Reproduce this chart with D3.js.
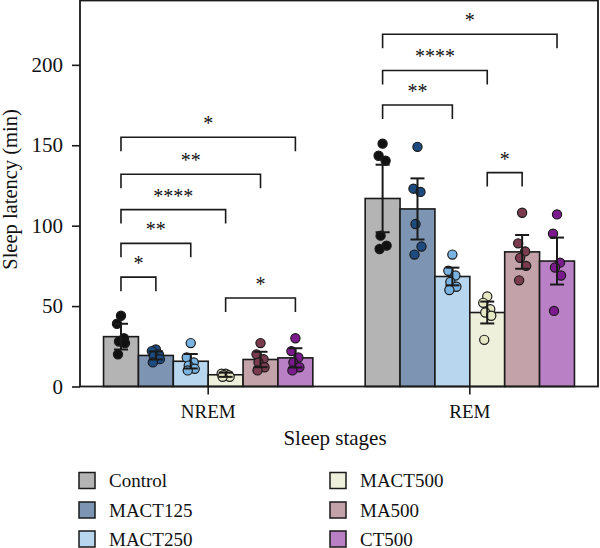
<!DOCTYPE html>
<html>
<head>
<meta charset="utf-8">
<script src="https://cdn.jsdelivr.net/npm/d3@7"></script>
<style>
  body { margin: 0; background: #fff; }
  svg text { font-family: "Liberation Serif", "DejaVu Serif", serif !important; fill: #111; }
</style>
</head>
<body>
<script>
// Data
const stages = ["NREM", "REM"]
const groups = ["Control", "MACT125", "MACT250", "MACT500", "MA500", "CT500"]
const nremMeans = [31, 19.3, 15.7, 7.3, 16.8, 17.8]
const nremErrors = [8, 2.5, 4.5, 1.3, 4.8, 6]
const remMeans = [116.9, 110.4, 68.4, 46, 83.7, 78]
const remErrors = [21, 19, 5.5, 6.8, 10.5, 14.6]
const nremPoints = [
  [44, 39, 30, 28, 27, 20],
  [23, 22, 20, 19, 17, 15],
  [27, 18, 15, 13, 11, 10],
  [8, 8, 7, 7, 6, 6],
  [27, 20, 17, 15, 12, 10],
  [30, 22, 18, 15, 12, 10]
]
const remPoints = [
  [151, 143.5, 140.4, 93.8, 87.6, 85.5],
  [149, 123, 121, 101, 87, 82],
  [82, 72, 69, 65, 62, 60],
  [56, 52, 48, 46, 44, 29],
  [108, 89, 84, 80, 75, 66],
  [107, 95, 77, 74, 69, 47]
]
const yTicks = [0, 50, 100, 150, 200]
// [from, to, label, height in minutes]
const nremBrackets = [
  ["Control", "CT500", "*", 155],
  ["Control", "MA500", "**", 132],
  ["Control", "MACT500", "****", 110],
  ["Control", "MACT250", "**", 89],
  ["Control", "MACT125", "*", 68],
  ["MACT500", "CT500", "*", 55]
]
const remBrackets = [
  ["Control", "CT500", "*", 219],
  ["Control", "MACT500", "****", 196.5],
  ["Control", "MACT250", "**", 175],
  ["MACT500", "MA500", "*", 133]
]

const barColors = ["#b4b4b4", "#7d95b3", "#b8d6ee", "#eff0dc", "#c3a2a9", "#ba80c6"]
const dotColors = ["#111111", "#1d4b80", "#79b3e1", "#e6e8c3", "#7b3b4f", "#7b1a8c"]
const ink = "#1a1a1a"
const serif = "'Liberation Serif', 'DejaVu Serif', serif"

let width = 600, height = 548
let plotLeft = 80, plotRight = 598, plotTop = 0.5, plotBottom = 386.5

let svg = d3.select("body").append("svg")
    .attr("width", width)
    .attr("height", height)
    .attr("font-family", serif)

let y = d3.scaleLinear().domain([0, 240]).range([plotBottom, plotTop])
let x0 = d3.scaleBand().domain(stages).range([plotLeft, plotRight])
    .paddingInner(0.2).paddingOuter(0.09)
let x1 = d3.scaleBand().domain(groups).range([0, x0.bandwidth()])

let color = d3.scaleOrdinal().domain(groups).range(barColors)
let dotColor = d3.scaleOrdinal().domain(groups).range(dotColors)

let stageData = {
  NREM: { means: nremMeans, errors: nremErrors, points: nremPoints, brackets: nremBrackets },
  REM: { means: remMeans, errors: remErrors, points: remPoints, brackets: remBrackets }
}

let cx = (stage, g) => x0(stage) + x1(g) + x1.bandwidth() / 2

// small fixed jitter so overlapping dots stay visible
let jitter = [0, -4, 3, -2, 4, -3]

stages.forEach(stage => {
  let d = stageData[stage]
  let g = svg.append("g")

  // bars
  g.selectAll("rect")
    .data(groups)
    .enter()
    .append("rect")
    .attr("x", k => x0(stage) + x1(k))
    .attr("y", (k, i) => y(d.means[i]))
    .attr("width", x1.bandwidth())
    .attr("height", (k, i) => y(0) - y(d.means[i]))
    .attr("fill", k => color(k))
    .attr("stroke", ink)
    .attr("stroke-width", 1.6)

  // dots
  groups.forEach((k, i) => {
    g.selectAll(null)
      .data(d.points[i])
      .enter()
      .append("circle")
      .attr("cx", (v, j) => cx(stage, k) + jitter[j])
      .attr("cy", v => y(v))
      .attr("r", 4.6)
      .attr("fill", dotColor(k))
      .attr("stroke", ink)
      .attr("stroke-width", 1.2)
  })

  // error bars
  groups.forEach((k, i) => {
    let m = d.means[i], e = d.errors[i], c = cx(stage, k)
    let eb = g.append("g").attr("stroke", ink).attr("stroke-width", 2)
    eb.append("line").attr("x1", c).attr("x2", c).attr("y1", y(m - e)).attr("y2", y(m + e))
    eb.append("line").attr("x1", c - 7).attr("x2", c + 7).attr("y1", y(m + e)).attr("y2", y(m + e))
    eb.append("line").attr("x1", c - 7).attr("x2", c + 7).attr("y1", y(m - e)).attr("y2", y(m - e))
  })

  // significance brackets
  d.brackets.forEach(b => {
    let xa = cx(stage, b[0]), xb = cx(stage, b[1]), yy = y(b[3])
    g.append("path")
      .attr("d", `M${xa},${yy + 14}V${yy}H${xb}V${yy + 14}`)
      .attr("fill", "none")
      .attr("stroke", ink)
      .attr("stroke-width", 1.6)
    g.append("text")
      .attr("x", (xa + xb) / 2)
      .attr("y", yy - 7)
      .attr("text-anchor", "middle")
      .attr("font-size", 20)
      .text(b[2])
  })
})

// axes
let yAxis = svg.append("g")
    .attr("transform", `translate(${plotLeft},0)`)
    .call(d3.axisLeft(y).tickValues(yTicks).tickSize(8).tickPadding(9))
yAxis.attr("font-family", serif)
yAxis.select(".domain").remove()
yAxis.selectAll("line").attr("stroke", ink).attr("stroke-width", 1.6)
yAxis.selectAll("text").attr("font-size", 21).attr("fill", "#111")

let xAxis = svg.append("g")
    .attr("transform", `translate(0,${plotBottom})`)
    .call(d3.axisBottom(x0).tickSize(8).tickPadding(10))
xAxis.attr("font-family", serif)
xAxis.select(".domain").remove()
xAxis.selectAll("line").attr("stroke", ink).attr("stroke-width", 1.6)
xAxis.selectAll("text").attr("font-size", 19).attr("fill", "#111")

// frame
svg.append("rect")
    .attr("x", plotLeft)
    .attr("y", plotTop)
    .attr("width", plotRight - plotLeft)
    .attr("height", plotBottom - plotTop)
    .attr("fill", "none")
    .attr("stroke", ink)
    .attr("stroke-width", 1.8)

// titles
svg.append("text")
    .attr("transform", `translate(17,${(plotTop + plotBottom) / 2 - 4}) rotate(-90)`)
    .attr("text-anchor", "middle")
    .attr("font-size", 20.5)
    .text("Sleep latency (min)")

svg.append("text")
    .attr("x", 335)
    .attr("y", 445)
    .attr("text-anchor", "middle")
    .attr("font-size", 21)
    .text("Sleep stages")

// legend
let legendCols = [79, 330]
let legendRows = [480.5, 510, 539]
groups.forEach((k, i) => {
  let lx = legendCols[Math.floor(i / 3)], ly = legendRows[i % 3]
  svg.append("rect")
    .attr("x", lx)
    .attr("y", ly - 8)
    .attr("width", 16)
    .attr("height", 16)
    .attr("fill", color(k))
    .attr("stroke", ink)
    .attr("stroke-width", 1.5)
  svg.append("text")
    .attr("x", lx + 30)
    .attr("y", ly + 6.5)
    .attr("font-size", 19)
    .text(k)
})
</script>
</body>
</html>
